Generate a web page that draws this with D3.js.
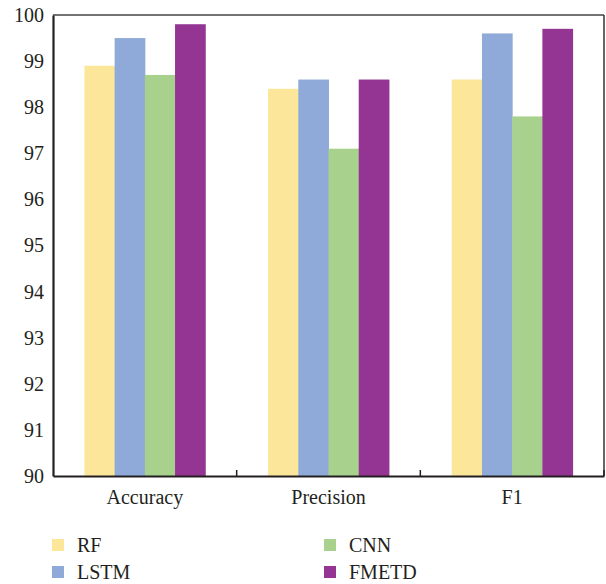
<!DOCTYPE html>
<html>
<head>
<meta charset="utf-8">
<script src="https://cdn.jsdelivr.net/npm/d3@7"></script>
<style>
  html, body { margin: 0; padding: 0; background: #fff; }
  svg { display: block; }
</style>
</head>
<body>
<svg id="chart" width="606" height="584"></svg>
<script>
// Metrics and models
const categories = ["Accuracy", "Precision", "F1"];
const seriesNames = ["RF", "LSTM", "CNN", "FMETD"];
const seriesColors = ["#fce699", "#8faad8", "#a8d18d", "#953593"];
const rfValues = [98.9, 98.4, 98.6];
const lstmValues = [99.5, 98.6, 99.6];
const cnnValues = [98.7, 97.1, 97.8];
const fmetdValues = [99.8, 98.6, 99.7];
const yTicks = [90, 91, 92, 93, 94, 95, 96, 97, 98, 99, 100];

const seriesValues = [rfValues, lstmValues, cnnValues, fmetdValues];

const FONT = "'Liberation Serif', 'Times New Roman', 'DejaVu Serif', serif";
const INK = "#231f20";

const svg = d3.select("#chart");
const margin = { left: 53, right: 2, top: 15, bottom: 108 };
const W = 606, H = 584;
const x0 = margin.left, x1 = W - margin.right;
const yTop = margin.top, yBot = H - margin.bottom;

const y = d3.scaleLinear().domain([90, 100]).range([yBot, yTop]);

const band = d3.scaleBand().domain(categories).range([x0, x1])
  .paddingInner(0.342).paddingOuter(0.171);
const sub = d3.scaleBand().domain(seriesNames).range([0, band.bandwidth()]);

// Bars
const groups = svg.append("g").selectAll("g")
  .data(categories)
  .join("g")
  .attr("transform", d => `translate(${band(d)},0)`);

groups.selectAll("rect")
  .data((c, ci) => seriesNames.map((s, si) => ({ s, si, v: seriesValues[si][ci] })))
  .join("rect")
  .attr("x", d => sub(d.s))
  .attr("width", sub.bandwidth() + 0.5)
  .attr("y", d => y(d.v))
  .attr("height", d => y(90) - y(d.v))
  .attr("fill", d => seriesColors[d.si]);

// Frame: top and right lines
svg.append("line").attr("x1", x0).attr("x2", x1).attr("y1", yTop).attr("y2", yTop)
  .attr("stroke", "#444").attr("stroke-width", 1.5);
svg.append("line").attr("x1", x1).attr("x2", x1).attr("y1", yTop).attr("y2", yBot)
  .attr("stroke", "#333").attr("stroke-width", 1.5);

// Y axis (labels only, no tick marks)
const yAxis = d3.axisLeft(y).tickValues(yTicks).tickSize(0).tickPadding(9).tickFormat(d3.format("d"));
const gy = svg.append("g").attr("transform", `translate(${x0},0)`).call(yAxis);
gy.attr("font-family", null).attr("font-size", null);
gy.select(".domain").attr("stroke", INK).attr("stroke-width", 2.2);
gy.selectAll("text").style("font-family", FONT).style("font-size", "20px").attr("fill", INK);

// X axis with boundary ticks pointing inward
const xAxis = d3.axisBottom(band).tickSize(0).tickPadding(10);
const gx = svg.append("g").attr("transform", `translate(0,${yBot})`).call(xAxis);
gx.attr("font-family", null).attr("font-size", null);
gx.select(".domain").attr("stroke", INK).attr("stroke-width", 2.2);
gx.selectAll("text").style("font-family", FONT).style("font-size", "20px").attr("fill", INK)
  .attr("dy", "0.9em");

const boundaries = categories.slice(1).map(c => band(c) - band.step() * band.paddingInner() / 2);
boundaries.push(x1);
svg.append("g").selectAll("line").data(boundaries).join("line")
  .attr("x1", d => d).attr("x2", d => d)
  .attr("y1", yBot).attr("y2", yBot - 6)
  .attr("stroke", INK).attr("stroke-width", 1.5);

// Legend in two columns
const legendCols = [52, 324];
const legendRows = [545, 572];
const legend = svg.append("g").selectAll("g")
  .data(seriesNames)
  .join("g")
  .attr("transform", (d, i) => `translate(${legendCols[Math.floor(i / 2)]},${legendRows[i % 2]})`);
legend.append("rect").attr("x", 0).attr("y", -6).attr("width", 12).attr("height", 12)
  .attr("fill", (d, i) => seriesColors[i]);
legend.append("text").attr("x", 25).attr("y", 0).attr("dy", "0.35em")
  .style("font-family", FONT).style("font-size", "20px").attr("fill", INK)
  .text(d => d);
</script>
</body>
</html>
